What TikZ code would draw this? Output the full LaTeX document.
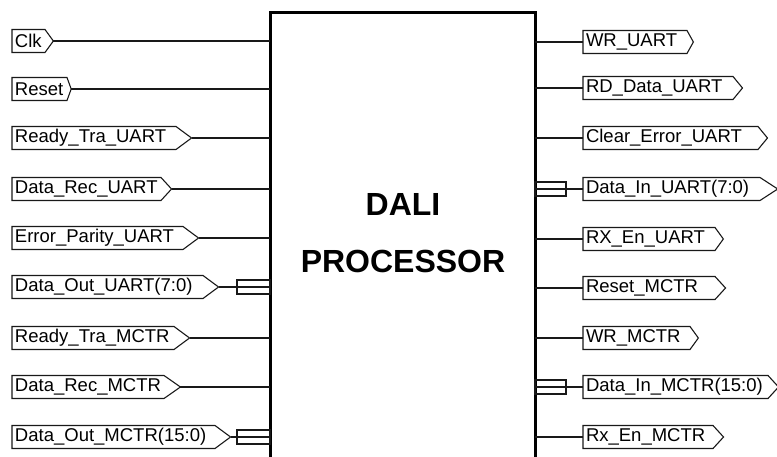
\documentclass[tikz,border=0pt]{standalone}
\usepackage{fontspec}
\setmainfont{Liberation Sans}
\usetikzlibrary{shapes.symbols}
\newcommand{\portfont}{\fontsize{18.5}{21}\selectfont}
\newcommand{\titlefont}{\fontsize{32}{57}\selectfont\bfseries}
\tikzset{
  portbox/.style={signal, signal to=east, draw=black!90, line width=1.1pt, outer sep=0pt,
    inner xsep=3pt, inner ysep=0pt, minimum height=23pt, align=left, font=\portfont, text width=#1},
  wire/.style={draw=black!90, line width=1.3pt},
  busbox/.style={draw=black!90, line width=1.3pt, outer sep=0pt, inner sep=0pt, minimum height=14pt,
    minimum width=#1, path picture={\draw[black!90, line width=1.3pt] (path picture bounding box.west) -- (path picture bounding box.east);}},
  procbox/.style={draw, line width=3pt, outer sep=0pt, inner sep=0pt}
}
\begin{document}
\begin{tikzpicture}[x=1pt,y=-1pt]
\useasboundingbox (0,0) rectangle (777,457);
% processor block
\node[procbox, minimum width=265pt, minimum height=480pt, anchor=north west] (proc) at (270,13) {};
\node[font=\titlefont, align=center] (title) at (403,233) {DALI\\PROCESSOR};

% left ports
\node[portbox=27pt, signal pointer angle=108, anchor=west] (clk) at (12,41) {Clk};
\node[portbox=49pt, signal pointer angle=140, anchor=west] (reset) at (12,89) {Reset};
\node[portbox=158pt, signal pointer angle=73, anchor=west] (rtu) at (12,138) {Ready\_Tra\_UART};
\node[portbox=143pt, signal pointer angle=95, anchor=west] (dru) at (12,189) {Data\_Rec\_UART};
\node[portbox=165pt, signal pointer angle=73, anchor=west] (epu) at (12,238) {Error\_Parity\_UART};
\node[portbox=185pt, signal pointer angle=73, anchor=west] (dou) at (12,287) {Data\_Out\_UART(7:0)};
\node[portbox=156pt, signal pointer angle=73, anchor=west] (rtm) at (12,338) {Ready\_Tra\_MCTR};
\node[portbox=146pt, signal pointer angle=70, anchor=west] (drm) at (12,387) {Data\_Rec\_MCTR};
\node[portbox=197pt, signal pointer angle=73, anchor=west] (dom) at (12,437) {Data\_Out\_MCTR(15:0)};

% right ports
\node[portbox=98pt, signal pointer angle=122, anchor=west] (wru) at (583,42) {WR\_UART};
\node[portbox=144pt, signal pointer angle=101, anchor=west] (rdu) at (583,88) {RD\_Data\_UART};
\node[portbox=169pt, signal pointer angle=101, anchor=west] (ceu) at (583,138) {Clear\_Error\_UART};
\node[portbox=171pt, signal pointer angle=66, anchor=west] (diu) at (583,189) {Data\_In\_UART(7:0)};
\node[portbox=126pt, signal pointer angle=108, anchor=west] (rxu) at (583,239) {RX\_En\_UART};
\node[portbox=126pt, signal pointer angle=95, anchor=west] (rsm) at (583,288) {Reset\_MCTR};
\node[portbox=101pt, signal pointer angle=108, anchor=west] (wrm) at (583,338) {WR\_MCTR};
\node[portbox=179pt, signal pointer angle=95, anchor=west] (dim) at (583,387) {Data\_In\_MCTR(15:0)};
\node[portbox=124pt, signal pointer angle=95, anchor=west] (rxm) at (583,437) {Rx\_En\_MCTR};

% bus symbols
\node[busbox=33pt, anchor=east] (busdou) at (proc.west |- dou.east) {};
\node[busbox=33pt, anchor=east] (busdom) at (proc.west |- dom.east) {};
\node[busbox=31pt, anchor=west] (busdiu) at (proc.east |- diu.west) {};
\node[busbox=31pt, anchor=west] (busdim) at (proc.east |- dim.west) {};

% left wires
\foreach \p in {clk,reset,rtu,dru,epu,rtm,drm}
  \draw[wire] (\p.east) -- (\p.east -| proc.west);
\draw[wire] (dou.east) -- (busdou.west);
\draw[wire] (dom.east) -- (busdom.west);

% right wires
\foreach \p in {wru,rdu,ceu,rxu,rsm,wrm,rxm}
  \draw[wire] (\p.west -| proc.east) -- (\p.west);
\draw[wire] (busdiu.east) -- (diu.west);
\draw[wire] (busdim.east) -- (dim.west);
\end{tikzpicture}
\end{document}
